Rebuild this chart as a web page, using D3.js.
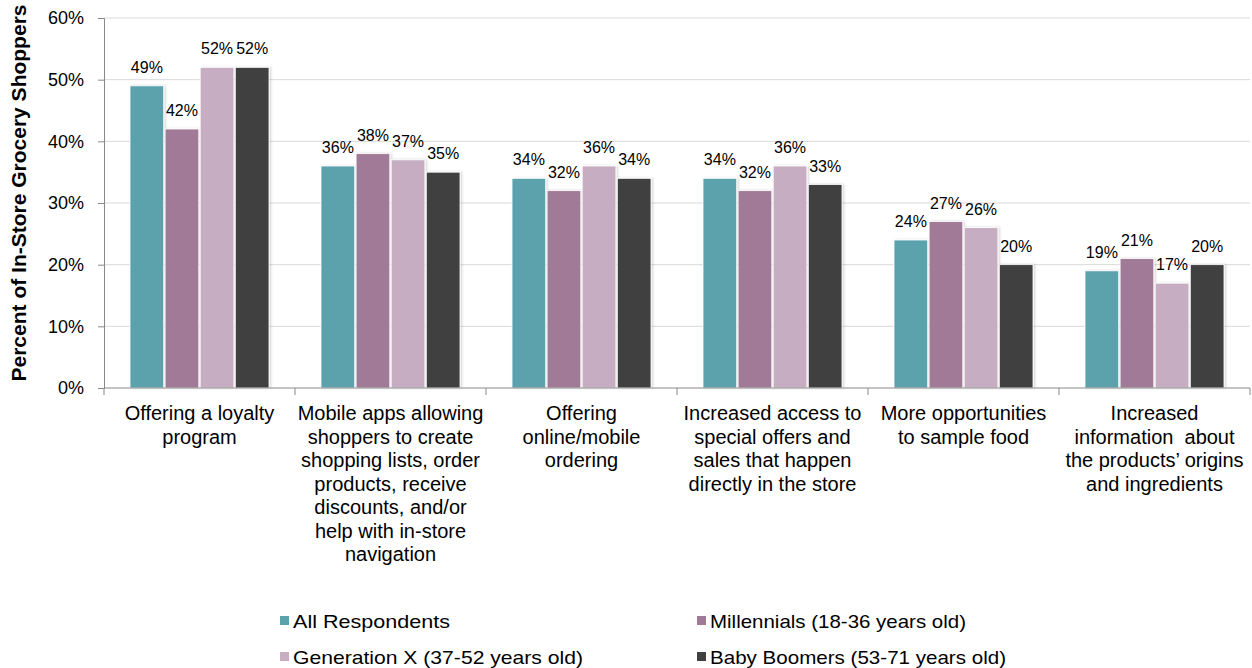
<!DOCTYPE html>
<html><head><meta charset="utf-8">
<script src="https://cdn.jsdelivr.net/npm/d3@7"></script>
<style>body{margin:0;background:#fff;font-family:Arial,"Liberation Sans",sans-serif}</style>
</head><body>
<svg id="c" width="1252" height="668"></svg>
<script>
const categories = [
  ["Offering a loyalty", "program"],
  ["Mobile apps allowing", "shoppers to create", "shopping lists, order", "products, receive", "discounts, and/or", "help with in-store", "navigation"],
  ["Offering", "online/mobile", "ordering"],
  ["Increased access to", "special offers and", "sales that happen", "directly in the store"],
  ["More opportunities", "to sample food"],
  ["Increased", "information  about", "the products\u2019 origins", "and ingredients"]
];
const seriesNames = ["All Respondents", "Millennials (18-36 years old)", "Generation X (37-52 years old)", "Baby Boomers (53-71 years old)"];
const allRespondents = [49, 36, 34, 34, 24, 19];
const millennials = [42, 38, 32, 32, 27, 21];
const generationX = [52, 37, 36, 36, 26, 17];
const babyBoomers = [52, 35, 34, 33, 20, 20];
const colors = ["#5BA2AD", "#A07A96", "#C6ADC2", "#404040"];
const yTicks = [0, 10, 20, 30, 40, 50, 60];

const series = [allRespondents, millennials, generationX, babyBoomers];
const svg = d3.select("#c");
const L = 104, R = 1250, T = 18, B = 388;

const defs = svg.append("defs");
const f = defs.append("filter").attr("id", "sh").attr("x", "-20%").attr("y", "-5%").attr("width", "150%").attr("height", "115%");
f.append("feDropShadow").attr("dx", 1.5).attr("dy", 0).attr("stdDeviation", 1).attr("flood-color", "#000").attr("flood-opacity", 0.18);

const idx = categories.map((d, i) => i);
const x0 = d3.scaleBand().domain(idx).range([L, R]).padding(0);
const bw = x0.bandwidth();
const x1 = d3.scaleBand().domain([0, 1, 2, 3]).range([26, bw - 26]).paddingInner(0.04);
const y = d3.scaleLinear().domain([0, 60]).range([B, T]);

// gridlines
svg.append("g").selectAll("line").data(yTicks.filter(t => t > 0)).join("line")
  .attr("x1", L).attr("x2", R).attr("y1", d => y(d)).attr("y2", d => y(d))
  .attr("stroke", "#d9d9d9").attr("stroke-width", 1);

// y axis
const ya = svg.append("g").attr("transform", `translate(${L},0)`)
  .call(d3.axisLeft(y).tickValues(yTicks).tickFormat(d => d + "%").tickSize(6).tickPadding(14));
ya.select(".domain").attr("stroke", "#888");
ya.selectAll(".tick line").attr("stroke", "#888");
ya.selectAll("text").attr("font-size", 18).attr("font-family", "Arial, 'Liberation Sans'").attr("fill", "#000");

// bars
const g = svg.append("g").selectAll("g").data(idx).join("g").attr("transform", d => `translate(${x0(d)},0)`);
g.selectAll("rect").data(i => series.map((s, k) => ({k, v: s[i]}))).join("rect")
  .attr("x", d => x1(d.k)).attr("width", x1.bandwidth())
  .attr("y", d => y(d.v)).attr("height", d => B - y(d.v))
  .attr("fill", d => colors[d.k]).attr("stroke", "#fff").attr("stroke-width", 0.8)
  .attr("filter", "url(#sh)");
g.selectAll("text.v").data(i => series.map((s, k) => ({k, v: s[i]}))).join("text").attr("class", "v")
  .attr("x", d => x1(d.k) + x1.bandwidth() / 2).attr("y", d => y(d.v) - 13)
  .attr("text-anchor", "middle").attr("font-size", 16).attr("fill", "#000")
  .text(d => d.v + "%");

// x axis
svg.append("line").attr("x1", L).attr("x2", R).attr("y1", B).attr("y2", B).attr("stroke", "#888");
svg.append("g").selectAll("line").data(d3.range(categories.length + 1)).join("line")
  .attr("x1", d => L + d * bw).attr("x2", d => L + d * bw).attr("y1", B).attr("y2", B + 7).attr("stroke", "#888");

// x labels
const xl = svg.append("g").selectAll("text").data(idx).join("text")
  .attr("text-anchor", "middle").attr("font-size", 20).attr("fill", "#000")
  .attr("transform", d => `translate(${x0(d) + bw / 2},${B + 32})`);
xl.selectAll("tspan").data(i => categories[i]).join("tspan")
  .attr("x", 0).attr("y", (d, j) => j * 23.5).style("white-space", "pre").text(d => d);

// y title
svg.append("text").attr("transform", `translate(26,${193}) rotate(-90)`)
  .attr("text-anchor", "middle").attr("font-size", 20).attr("font-weight", "bold").attr("fill", "#000")
  .attr("textLength", 377).attr("lengthAdjust", "spacingAndGlyphs")
  .text("Percent of In-Store Grocery Shoppers");

// legend
const legPos = [[280, 621], [697, 621], [280, 657], [697, 657]];
const legW = [157, 256, 290, 296];
const lg = svg.append("g").selectAll("g").data(seriesNames).join("g")
  .attr("transform", (d, i) => `translate(${legPos[i][0]},${legPos[i][1]})`);
lg.append("rect").attr("x", 0).attr("y", -5).attr("width", 9).attr("height", 9).attr("fill", (d, i) => colors[i]);
lg.append("text").attr("x", 13).attr("y", 0).attr("dy", "0.36em").attr("font-size", 19).attr("fill", "#000")
  .attr("textLength", (d, i) => legW[i]).attr("lengthAdjust", "spacingAndGlyphs").text(d => d);
</script>
</body></html>
